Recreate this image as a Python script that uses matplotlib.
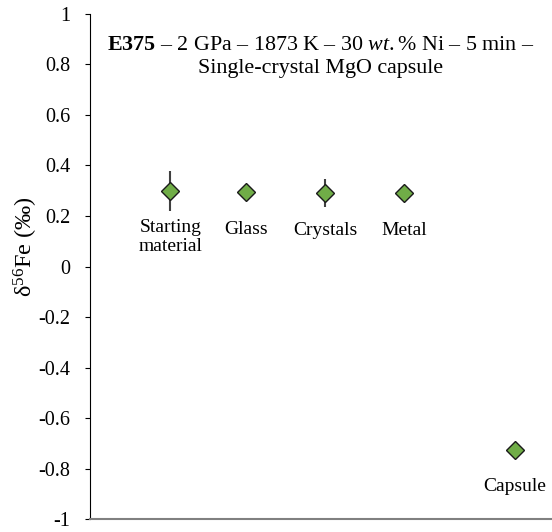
import matplotlib.pyplot as plt

plt.rcParams['font.family'] = ['Liberation Serif', 'DejaVu Serif']
plt.rcParams['mathtext.fontset'] = 'custom'
plt.rcParams['mathtext.rm'] = 'Liberation Serif'
plt.rcParams['mathtext.it'] = 'Liberation Serif:italic'
plt.rcParams['mathtext.bf'] = 'Liberation Serif:bold'

# données
labels = ['Starting\nmaterial', 'Glass', 'Crystals', 'Metal', 'Capsule']
d56fe = [0.30, 0.295, 0.29, 0.29, -0.725]
err = [0.08, 0.0, 0.055, 0.0, 0.0]
yticks = [1, 0.8, 0.6, 0.4, 0.2, 0, -0.2, -0.4, -0.6, -0.8, -1]

xpos = [1.03, 2.0, 3.01, 4.03, 5.44]

fig = plt.figure(figsize=(5.52, 5.32), dpi=100)
ax = fig.add_axes([0.163, 0.024, 0.837, 0.950])

ax.errorbar(xpos, d56fe, yerr=err, fmt='none', ecolor='#404040', elinewidth=1.5, capsize=0, zorder=2)
ax.plot(xpos, d56fe, 'D', ms=9, mfc='#70AD47', mec='#1a1a1a', mew=1.0, ls='none', zorder=3)
for x, y, lab in zip(xpos, d56fe, labels):
    ax.text(x, y - 0.113, lab, ha='center', va='top', fontsize=14, linespacing=1.12)

ax.text(0.5, 0.915, r'$\mathbf{E375}$ – 2 GPa – 1873 K – 30 $\mathit{wt.}$% Ni – 5 min –' + '\nSingle-crystal MgO capsule',
        transform=ax.transAxes, ha='center', va='center', fontsize=15.8, linespacing=1.25)

ax.set_xlim(0, 5.92)
ax.set_ylim(-1, 1)
ax.set_yticks(yticks)
ax.set_yticklabels([('%g' % t).replace('−', '-') for t in yticks], fontsize=14.5)
ax.set_xticks([])
ax.tick_params(axis='y', direction='out', length=3.6, width=0.8, pad=10.5)
ax.set_ylabel(r'δ$^{56}$Fe (‰)', fontsize=17.5, labelpad=0)
ax.yaxis.set_label_coords(-0.108, 0.54)

for s in ['top', 'right']:
    ax.spines[s].set_visible(False)
ax.spines['left'].set_color('black')
ax.spines['bottom'].set_color('#808080')
ax.spines['bottom'].set_linewidth(1.5)

fig.savefig('out.png', dpi=100)
